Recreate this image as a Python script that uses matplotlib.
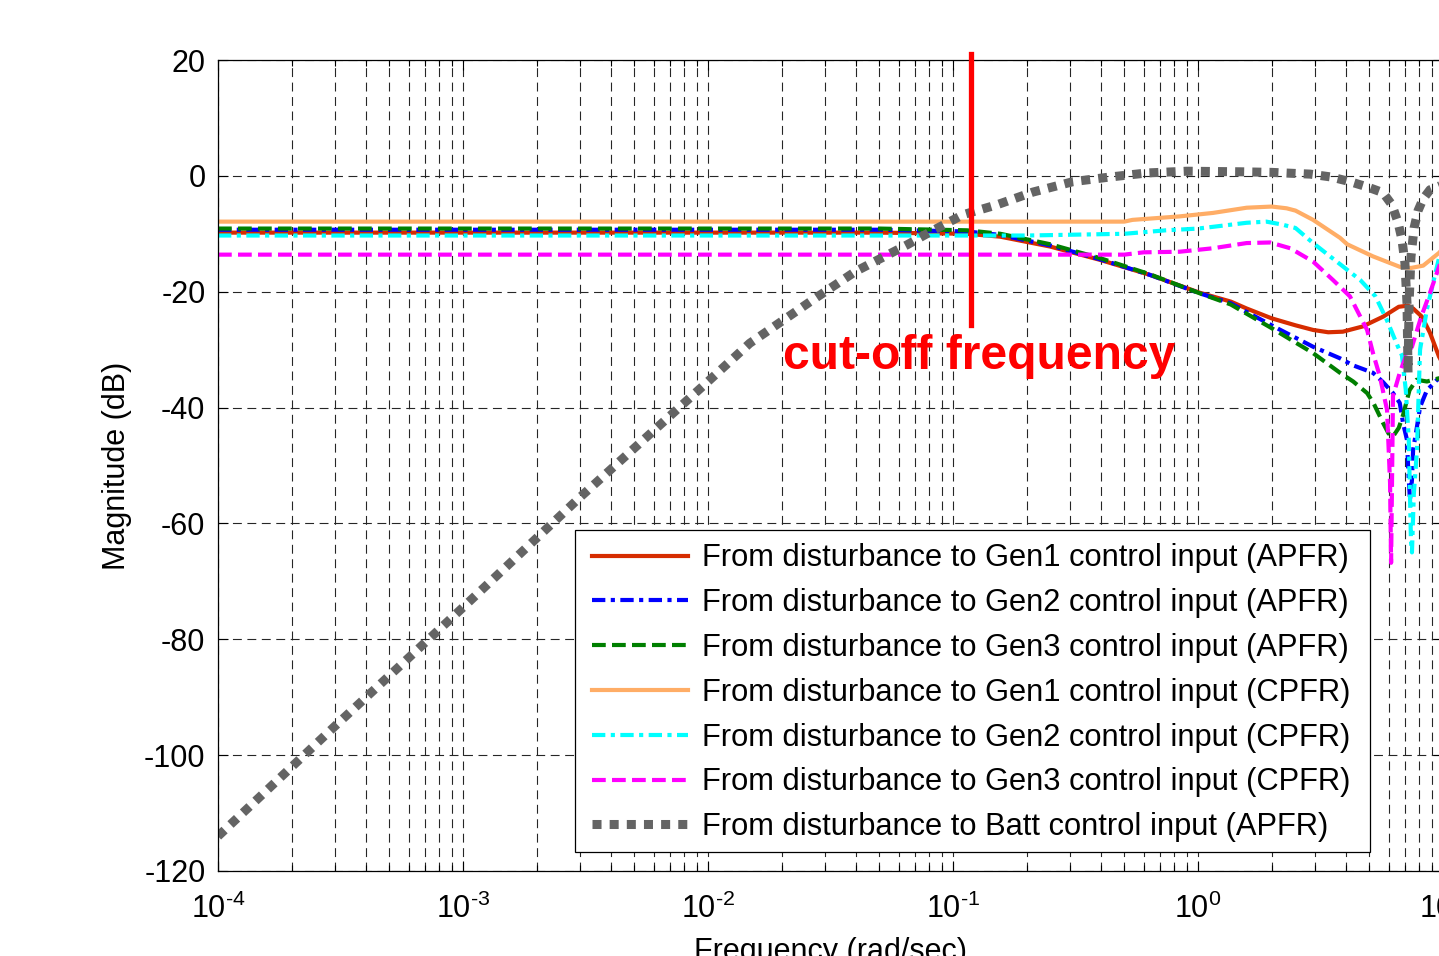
import matplotlib
matplotlib.use("Agg")
import matplotlib.pyplot as plt
from matplotlib.ticker import LogLocator, NullFormatter, FuncFormatter
from matplotlib.patches import Rectangle
import numpy as np

plt.rcParams['font.family'] = ['Liberation Sans', 'DejaVu Sans']
plt.rcParams['mathtext.fontset'] = 'custom'
plt.rcParams['mathtext.rm'] = 'Liberation Sans'
plt.rcParams['mathtext.it'] = 'Liberation Sans:italic'
plt.rcParams['mathtext.bf'] = 'Liberation Sans:bold'
plt.rcParams['axes.unicode_minus'] = False

# --- data (frequency in rad/sec, magnitude in dB) ---
f_gen1_apfr = [1e-4, 0.05, 0.114, 0.156, 0.249, 0.398, 0.637, 1.02, 1.36, 1.58, 2.0, 2.5,
               2.95, 3.4, 3.9, 4.7, 5.7, 6.6, 7.2, 7.55, 8.2, 8.85, 9.63, 10.0]
m_gen1_apfr = [-9.8, -9.8, -10.0, -10.5, -12.2, -14.5, -17.1, -20.2, -21.7, -22.9, -24.6, -25.8,
               -26.6, -27.0, -26.9, -26.0, -24.3, -22.6, -22.4, -22.9, -24.3, -27.1, -31.2, -32.5]

f_gen2_apfr = [1e-4, 0.05, 0.114, 0.156, 0.249, 0.398, 0.637, 1.02, 1.36, 1.58, 2.0, 2.17,
               2.95, 3.8, 4.29, 5.18, 5.69, 6.25, 6.66, 6.87, 7.13, 7.2, 7.33, 7.47, 7.55,
               7.83, 8.06, 8.6, 9.46, 10.0]
m_gen2_apfr = [-9.3, -9.3, -9.6, -10.2, -12.0, -14.4, -17.1, -20.3, -22.0, -23.5, -25.8, -26.6,
               -29.5, -31.5, -32.7, -34.0, -35.6, -37.5, -39.2, -42.7, -45.6, -50.0, -56.0, -52.5, -47.3,
               -43.3, -39.9, -37.0, -35.2, -34.8]

f_gen3_apfr = [1e-4, 0.05, 0.114, 0.156, 0.249, 0.398, 0.637, 1.02, 1.36, 1.58, 2.0, 2.95,
               3.8, 4.3, 4.9, 5.2, 5.7, 6.0, 6.25, 6.6, 6.87, 7.3, 7.8, 8.6, 9.5, 10.0]
m_gen3_apfr = [-9.1, -9.1, -9.4, -10.0, -11.8, -14.2, -17.0, -20.3, -22.2, -23.8, -26.3, -30.6,
               -34.0, -35.5, -37.5, -39.2, -42.7, -44.5, -45.0, -43.5, -41.3, -37.0, -35.2, -35.5, -35.0, -34.8]

f_gen1_cpfr = [1e-4, 0.5, 0.54, 0.84, 1.15, 1.58, 2.0, 2.3, 2.5, 2.95, 3.8, 4.06,
               5.18, 6.66, 7.4, 8.3, 9.63, 10.0]
m_gen1_cpfr = [-7.9, -7.9, -7.6, -7.0, -6.4, -5.5, -5.3, -5.6, -6.0, -7.6, -10.7, -11.8,
               -13.9, -15.7, -15.9, -15.5, -13.3, -12.5]

f_gen2_cpfr = [1e-4, 0.2, 0.5, 0.74, 1.0, 1.15, 1.58, 1.9, 2.2, 2.5, 2.95, 4.06,
               4.6, 5.3, 5.9, 6.55, 6.8, 7.05, 7.25, 7.4, 7.47, 7.6, 7.83, 7.95, 8.06,
               8.6, 9.63, 10.0]
m_gen2_cpfr = [-10.3, -10.3, -10.0, -9.4, -9.1, -8.8, -8.1, -7.9, -8.4, -9.0, -11.6, -16.2,
               -18.0, -20.8, -24.9, -29.5, -31.0, -37.0, -45.6, -63.0, -65.0, -55.0, -47.3, -38.0, -30.0,
               -23.0, -14.2, -12.5]

f_gen3_cpfr = [1e-4, 0.5, 0.6, 0.84, 1.15, 1.58, 1.97, 2.38, 2.95, 3.56, 4.17, 4.9,
               5.18, 5.53, 5.91, 6.08, 6.14, 6.25, 6.66, 7.13, 7.47, 8.15, 8.85, 9.63, 10.0]
m_gen3_cpfr = [-13.6, -13.6, -13.2, -13.1, -12.5, -11.6, -11.5, -12.5, -14.8, -18.0, -20.8, -26.6,
               -30.6, -34.7, -40.4, -53.0, -66.8, -38.0, -34.0, -30.6, -29.5, -24.3, -20.2, -15.7, -14.0]

f_batt_apfr = [1e-4, 3e-4, 1e-3, 3e-3, 1e-2, 0.0148, 0.0268, 0.04, 0.065, 0.0805, 0.11, 0.151,
               0.212, 0.309, 0.437, 0.619, 0.902, 1.5, 2.0, 2.87, 3.5, 4.17, 4.9, 5.69, 6.19,
               6.55, 6.8, 6.99, 7.13, 7.2, 7.27, 7.4, 7.62, 7.91, 8.29, 8.85, 10.0]
m_batt_apfr = [-114.0, -95.0, -74.5, -55.5, -35.5, -28.9, -21.4, -16.5, -11.9, -9.7, -6.7, -5.0,
               -2.8, -1.0, -0.2, 0.5, 0.8, 0.7, 0.6, 0.3, -0.2, -1.0, -1.9, -2.9, -5.0,
               -8.0, -11.0, -15.0, -22.0, -34.0, -22.0, -14.0, -9.0, -6.0, -4.0, -2.4, -1.5]

labels = ['From disturbance to Gen1 control input (APFR)',
          'From disturbance to Gen2 control input (APFR)',
          'From disturbance to Gen3 control input (APFR)',
          'From disturbance to Gen1 control input (CPFR)',
          'From disturbance to Gen2 control input (CPFR)',
          'From disturbance to Gen3 control input (CPFR)',
          'From disturbance to Batt control input (APFR)']

cutoff_freq = 0.118
cutoff_span = [21.0, -25.7]


def decade_label(v, pos):
    e = int(round(np.log10(v)))
    return r'$10^{\text{%d}}$' % e


fig = plt.figure(figsize=(14.39, 9.56), dpi=100, facecolor='white')
ax = fig.add_axes([218 / 1439, 85 / 956, 1225 / 1439, 811 / 956])

ax.semilogx(f_gen1_apfr, m_gen1_apfr, color='#d62c00', lw=3.0, ls='-', label=labels[0])
ax.semilogx(f_gen2_apfr, m_gen2_apfr, color='#0000ff', lw=3.0, ls=(0, (3.2, 1.3, 1.0, 1.3)), label=labels[1])
ax.semilogx(f_gen3_apfr, m_gen3_apfr, color='#007f00', lw=3.0, ls=(0, (3.3, 1.5)), label=labels[2])
ax.semilogx(f_gen1_cpfr, m_gen1_cpfr, color='#ffad66', lw=3.0, ls='-', label=labels[3])
ax.semilogx(f_gen2_cpfr, m_gen2_cpfr, color='#00ffff', lw=3.0, ls=(0, (3.2, 1.3, 1.0, 1.3)), label=labels[4])
ax.semilogx(f_gen3_cpfr, m_gen3_cpfr, color='#ff00ff', lw=3.0, ls=(0, (3.3, 1.5)), label=labels[5])
ax.semilogx(f_batt_apfr, m_batt_apfr, color='#646464', lw=6.5, ls=(0, (1.0, 0.9)), label=labels[6])

ax.set_xlim(1e-4, 1e1)
ax.set_ylim(-120, 20)
ax.set_yticks(np.arange(-120, 21, 20))
ax.xaxis.set_major_locator(LogLocator(base=10, numticks=10))
ax.xaxis.set_major_formatter(FuncFormatter(decade_label))
ax.xaxis.set_minor_locator(LogLocator(base=10, subs=np.arange(2, 10), numticks=100))
ax.xaxis.set_minor_formatter(NullFormatter())

ax.grid(True, which='major', color='0.15', lw=0.8, ls=(0, (8, 5)))
ax.grid(True, which='minor', axis='x', color='0.15', lw=0.8, ls=(0, (8, 5)))
ax.tick_params(which='both', direction='in', top=True, right=True, labelsize=22)
ax.tick_params(axis='y', pad=9)
ax.tick_params(axis='x', pad=16)
ax.tick_params(which='major', length=7, width=0.8)
ax.tick_params(which='minor', length=4, width=0.8)
for s in ax.spines.values():
    s.set_linewidth(0.9)

ax.set_ylabel('Magnitude (dB)', fontsize=22)
ax.yaxis.set_label_coords(-0.0705, 0.5)
ax.set_xlabel('Frequency (rad/sec)', fontsize=22)
ax.xaxis.set_label_coords(0.5, -0.081)

# cut-off marker
ax.plot([cutoff_freq, cutoff_freq], cutoff_span, color='#ff0000', lw=3.8, clip_on=False, zorder=5)
ax.text(0.0202, -33.3, 'cut-off frequency', color='#ff0000', fontsize=34.6, fontweight='bold',
        ha='left', va='baseline', zorder=6)

# legend box drawn by hand (MATLAB-style padding), entries on top
ax.add_patch(Rectangle((0.2914, 0.0234), 0.9404 - 0.2914, 0.4205 - 0.0234, transform=ax.transAxes,
                       facecolor='white', edgecolor='black', lw=0.9, zorder=4.9))
leg = ax.legend(loc='lower right', bbox_to_anchor=(0.9322, 0.0234), borderaxespad=0,
                fontsize=22.2, frameon=False,
                handlelength=3.1, handletextpad=0.45, labelspacing=0.48, borderpad=0.32)

fig.savefig('out.png', dpi=100)
